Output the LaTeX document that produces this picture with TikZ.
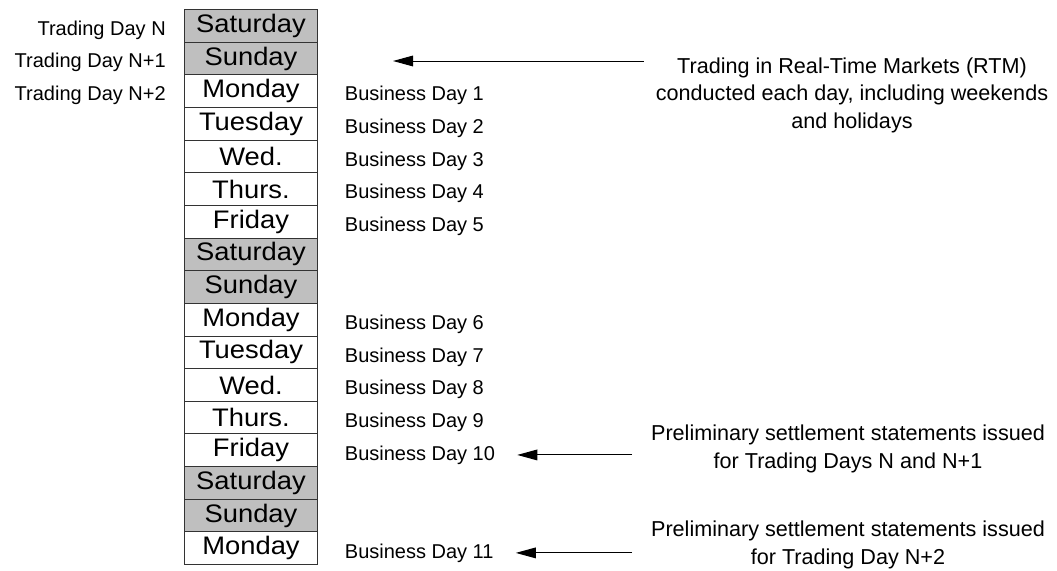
\documentclass[tikz,border=0pt]{standalone}
\usepackage{fontspec}
\setmainfont{Liberation Sans}
\newfontfamily\dayfont[FakeStretch=1.08]{Liberation Sans}
\usetikzlibrary{positioning,arrows.meta}

\begin{document}
\begin{tikzpicture}[x=0.75pt,y=-0.75pt,
  daybox/.style={draw=black!80, line width=0.75pt, minimum width=99.75pt, minimum height=24.5pt, inner sep=0pt, anchor=north west, font=\dayfont\fontsize{19}{19}\selectfont},
  weekend/.style={daybox, fill=gray!50},
  lbl/.style={inner sep=0pt, font=\fontsize{15}{15}\selectfont},
  note/.style={inner sep=0pt, align=center, font=\fontsize{16.2}{20.6}\selectfont},
  arr/.style={line width=0.75pt, -{Triangle[length=15pt,width=8pt]}}]
\useasboundingbox (0,0) rectangle (1057,571);

% the calendar column
\foreach \name/\sty [count=\i] in {Saturday/weekend, Sunday/weekend, Monday/daybox, Tuesday/daybox, Wed./daybox, Thurs./daybox, Friday/daybox, Saturday/weekend, Sunday/weekend, Monday/daybox, Tuesday/daybox, Wed./daybox, Thurs./daybox, Friday/daybox, Saturday/weekend, Sunday/weekend, Monday/daybox}
  \node [\sty] (d\i) at (184,{9+32.65*(\i-1)}) {\name};

% trading days
\node [lbl, left=13.5pt of d1, anchor=east, yshift=-3pt] (t0) {Trading Day N};
\node [lbl, left=13.5pt of d2, anchor=east, yshift=-3pt] (t1) {Trading Day N+1};
\node [lbl, left=13.5pt of d3, anchor=east, yshift=-3pt] (t2) {Trading Day N+2};

% business days
\foreach \d/\n in {3/1, 4/2, 5/3, 6/4, 7/5, 10/6, 11/7, 12/8, 13/9, 14/10, 17/11}
  \node [lbl, right=20pt of d\d, anchor=west, yshift=-3.5pt] (b\n) {Business Day \n};

% notes
\node [note] (rtm) at (852,95) {Trading in Real-Time Markets (RTM)\\conducted each day, including weekends\\and holidays};
\node [note] (prel1) at (848,449) {Preliminary settlement statements issued\\for Trading Days N and N+1};
\node [note] (prel2) at (848,545) {Preliminary settlement statements issued\\for Trading Day N+2};

\coordinate (rtmtip) at (393,61);
\draw [arr] ([xshift=-9pt]rtm.west |- rtmtip) -- (rtmtip);
\draw [arr] ([xshift=-14pt]prel1.west |- b10) -- ([xshift=16.5pt]b10.east);
\draw [arr] ([xshift=-14pt]prel2.west |- b11) -- ([xshift=16.5pt]b11.east);

\end{tikzpicture}
\end{document}
